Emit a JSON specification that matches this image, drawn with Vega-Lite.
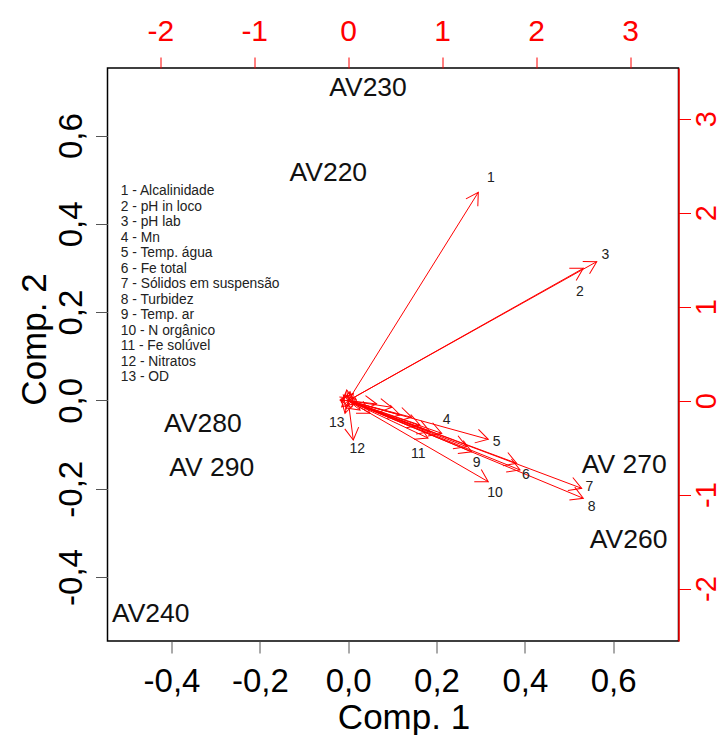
{
  "$schema": "https://vega.github.io/schema/vega-lite/v6.json",
  "width": 571,
  "height": 573,
  "autosize": "none",
  "padding": {"left": 107.5, "top": 68, "right": 46.5, "bottom": 94},
  "background": "white",
  "config": {
    "view": {"stroke": "#000000", "strokeWidth": 1.5},
    "font": "Liberation Sans",
    "axis": {"grid": false, "labelFont": "Liberation Sans", "titleFont": "Liberation Sans", "titleFontWeight": "normal"}
  },
  "layer": [
    {
      "layer": [
        {
          "data": {"values": [
            {"label": "AV230", "x": 0.045, "y": 0.708},
            {"label": "AV220", "x": -0.045, "y": 0.515},
            {"label": "AV280", "x": -0.329, "y": -0.053},
            {"label": "AV 290", "x": -0.309, "y": -0.153},
            {"label": "AV240", "x": -0.447, "y": -0.483},
            {"label": "AV 270", "x": 0.625, "y": -0.146},
            {"label": "AV260", "x": 0.635, "y": -0.316}
          ]},
          "mark": {"type": "text", "fontSize": 26.5, "color": "#111111", "align": "center", "baseline": "middle"},
          "encoding": {
            "x": {"field": "x", "type": "quantitative",
              "scale": {"domain": [-0.545, 0.748], "nice": false, "zero": false},
              "axis": {"orient": "bottom", "values": [-0.4, -0.2, 0, 0.2, 0.4, 0.6],
                "labelExpr": "replace((datum.value < 0 ? '-' : '') + format(abs(datum.value), '.1f'), '.', ',')",
                "labelFontSize": 33, "labelColor": "#000000", "labelBaseline": "top", "labelPadding": 12,
                "tickSize": 12, "tickColor": "#555555", "domain": false,
                "title": "Comp. 1", "titleFontSize": 35, "titleColor": "#000000",
                "titleBaseline": "alphabetic", "titleY": 87, "titleX": 296}},
            "y": {"field": "y", "type": "quantitative",
              "scale": {"domain": [-0.545, 0.753], "nice": false, "zero": false},
              "axis": {"orient": "left", "values": [-0.4, -0.2, 0, 0.2, 0.4, 0.6],
                "labelExpr": "replace((datum.value < 0 ? '-' : '') + format(abs(datum.value), '.1f'), '.', ',')",
                "labelFontSize": 33, "labelColor": "#000000", "labelAngle": 270, "labelAlign": "center",
                "labelBaseline": "alphabetic", "labelPadding": 14,
                "tickSize": 12, "tickColor": "#555555", "domain": false,
                "title": "Comp. 2", "titleFontSize": 35, "titleColor": "#000000", "titleAngle": 270,
                "titleBaseline": "alphabetic", "titleX": -62, "titleY": 271}},
            "text": {"field": "label", "type": "nominal"}
          }
        },
        {
          "data": {"values": [
            {"lines": ["1 - Alcalinidade", "2 - pH in loco", "3 - pH lab", "4 - Mn", "5 - Temp. água", "6 - Fe total", "7 - Sólidos em suspensão", "8 - Turbidez", "9 - Temp. ar", "10 - N orgânico", "11 - Fe solúvel", "12 - Nitratos", "13 - OD"]}
          ]},
          "mark": {"type": "text", "fontSize": 13.8, "lineHeight": 15.5, "align": "left", "baseline": "alphabetic", "color": "#222222"},
          "encoding": {
            "x": {"datum": -0.515, "type": "quantitative"},
            "y": {"datum": 0.4646, "type": "quantitative"},
            "text": {"field": "lines", "type": "nominal"}
          }
        }
      ]
    },
    {
      "data": {"values": [
        {"id": "1", "tx": 1.384, "ty": 2.216, "lx": 1.519, "ly": 2.368},
        {"id": "2", "tx": 2.501, "ty": 1.407, "lx": 2.466, "ly": 1.152},
        {"id": "3", "tx": 2.644, "ty": 1.478, "lx": 2.735, "ly": 1.549},
        {"id": "4", "tx": 0.995, "ty": -0.348, "lx": 1.048, "ly": -0.206},
        {"id": "5", "tx": 1.49, "ty": -0.412, "lx": 1.58, "ly": -0.437},
        {"id": "6", "tx": 1.828, "ty": -0.738, "lx": 1.891, "ly": -0.791},
        {"id": "7", "tx": 2.484, "ty": -0.933, "lx": 2.565, "ly": -0.922},
        {"id": "8", "tx": 2.501, "ty": -1.039, "lx": 2.59, "ly": -1.129},
        {"id": "9", "tx": 1.314, "ty": -0.544, "lx": 1.367, "ly": -0.667},
        {"id": "10", "tx": 1.49, "ty": -0.863, "lx": 1.562, "ly": -0.98},
        {"id": "11", "tx": 0.849, "ty": -0.398, "lx": 0.746, "ly": -0.568},
        {"id": "12", "tx": 0.054, "ty": -0.419, "lx": 0.097, "ly": -0.518},
        {"id": "13", "tx": -0.034, "ty": -0.135, "lx": -0.122, "ly": -0.235},
        {"id": "", "tx": 0.303, "ty": -0.036},
        {"id": "", "tx": 0.463, "ty": -0.071},
        {"id": "", "tx": 0.551, "ty": -0.153},
        {"id": "", "tx": 0.676, "ty": -0.178},
        {"id": "", "tx": 0.764, "ty": -0.26},
        {"id": "", "tx": 0.87, "ty": -0.331},
        {"id": "", "tx": 1.261, "ty": -0.49},
        {"id": "", "tx": 1.793, "ty": -0.667},
        {"id": "", "tx": 0.232, "ty": -0.135},
        {"id": "", "tx": 0.126, "ty": -0.1},
        {"id": "", "tx": 0.054, "ty": 0.078},
        {"id": "", "tx": 0.019, "ty": 0.095},
        {"id": "", "tx": -0.052, "ty": 0.06},
        {"id": "", "tx": -0.087, "ty": 0.006},
        {"id": "", "tx": -0.069, "ty": -0.065},
        {"id": "", "tx": 0.054, "ty": 0.024},
        {"id": "", "tx": -0.016, "ty": 0.113}
      ]},
      "layer": [
        {
          "mark": {"type": "rule", "color": "#ff0000", "strokeWidth": 1},
          "encoding": {
            "x": {"field": "tx", "type": "quantitative",
              "scale": {"domain": [-2.561, 3.514], "nice": false, "zero": false},
              "axis": {"orient": "top", "values": [-2, -1, 0, 1, 2, 3],
                "labelExpr": "(datum.value < 0 ? '-' : '') + abs(datum.value)",
                "labelFontSize": 30, "labelColor": "#ff0000", "labelBaseline": "alphabetic", "labelPadding": 17,
                "tickSize": 11, "tickColor": "#ff0000", "domain": false, "title": null}},
            "y": {"field": "ty", "type": "quantitative",
              "scale": {"domain": [-2.557, 3.538], "nice": false, "zero": false},
              "axis": {"orient": "right", "values": [-2, -1, 0, 1, 2, 3],
                "labelExpr": "(datum.value < 0 ? '-' : '') + abs(datum.value)",
                "labelFontSize": 29, "labelColor": "#ff0000", "labelAngle": 270, "labelAlign": "center",
                "labelBaseline": "top", "labelPadding": 2,
                "tickSize": 12, "tickColor": "#ff0000", "domainColor": "#ff0000", "domainWidth": 1.5, "title": null}},
            "x2": {"datum": 0},
            "y2": {"datum": 0}
          }
        },
        {
          "transform": [{"calculate": "atan2(datum.tx, datum.ty) * 180 / PI", "as": "ang"}],
          "mark": {"type": "point", "shape": "M-0.5,0.866L0,0L0.5,0.866", "filled": false, "stroke": "#ff0000", "strokeWidth": 1, "size": 784, "opacity": 1},
          "encoding": {
            "x": {"field": "tx", "type": "quantitative"},
            "y": {"field": "ty", "type": "quantitative"},
            "angle": {"field": "ang", "type": "quantitative", "scale": null}
          }
        },
        {
          "transform": [{"filter": "datum.id != ''"}],
          "mark": {"type": "text", "fontSize": 14, "color": "#222222", "align": "center", "baseline": "middle"},
          "encoding": {
            "x": {"field": "lx", "type": "quantitative"},
            "y": {"field": "ly", "type": "quantitative"},
            "text": {"field": "id", "type": "nominal"}
          }
        }
      ]
    }
  ],
  "resolve": {"scale": {"x": "independent", "y": "independent"}, "axis": {"x": "independent", "y": "independent"}}
}
